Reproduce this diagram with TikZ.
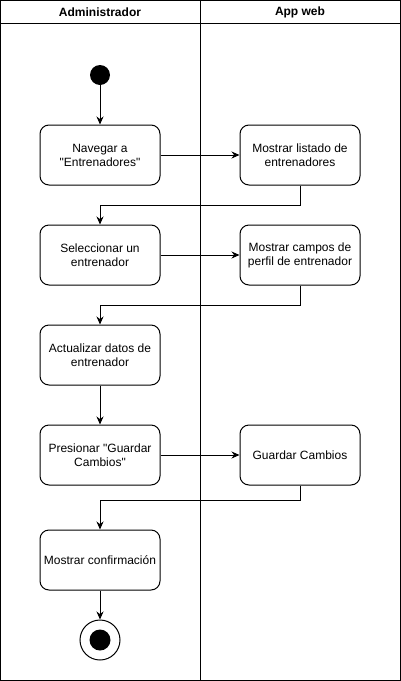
\documentclass[tikz,border=0pt]{standalone}
\usepackage{fontspec}
\setmainfont{Liberation Sans}
\usetikzlibrary{arrows.meta,positioning}

\begin{document}
\begin{tikzpicture}[x=1pt,y=-1pt,
    accion/.style={draw,line width=1pt,rounded corners=9pt,minimum width=120pt,minimum height=60pt,
        inner sep=2pt,align=center,font=\fontsize{12}{14}\selectfont},
    carril/.style={font=\fontsize{12}{14}\selectfont\bfseries},
    flecha/.style={-{Stealth[length=8pt,width=7pt]},line width=1pt}]

            \useasboundingbox (0,0) rectangle (401,681);

            % Marco de los carriles
            \draw[line width=1pt] (0.5,0.5) rectangle (400.5,680.5);
            \draw[line width=1pt] (0.5,23) -- (400.5,23);
            \draw[line width=1pt] (200.5,0.5) -- (200.5,680.5);
            \foreach \x/\titulo in {100/Administrador, 300/App web} {
                \node[carril] (t\x) at (\x,12) {\titulo};
            }

            % Estados inicial y final
            \node[circle,fill,minimum size=20pt,inner sep=0pt] (ini) at (100,75) {};
            \node[circle,draw,line width=1pt,minimum size=40pt,inner sep=0pt] (fin) at (100,640) {};
            \fill (fin.center) circle (10.5pt);

            % Acciones
            \node[accion] (navegar) at (100,155) {Navegar a\\\textquotedbl Entrenadores\textquotedbl};
            \node[accion] (listado) at (300,155) {Mostrar listado de\\entrenadores};
            \node[accion] (seleccionar) at (100,255) {Seleccionar un\\entrenador};
            \node[accion] (campos) at (300,255) {Mostrar campos de\\perfil de entrenador};
            \node[accion] (actualizar) at (100,355) {Actualizar datos de\\entrenador};
            \node[accion] (presionar) at (100,455) {Presionar \textquotedbl Guardar\\Cambios\textquotedbl};
            \node[accion] (guardar) at (300,455) {Guardar Cambios};
            \node[accion] (confirmacion) at (100,560) {Mostrar confirmación};

            % Flujo
            \draw[flecha] (ini) -- (navegar);
            \draw[flecha] (navegar) -- (listado);
            \draw[flecha] (listado.south) -- ++(0,20) -| (seleccionar.north);
            \draw[flecha] (seleccionar) -- (campos);
            \draw[flecha] (campos.south) -- ++(0,20) -| (actualizar.north);
            \draw[flecha] (actualizar) -- (presionar);
            \draw[flecha] (presionar) -- (guardar);
            \draw[flecha] (guardar.south) -- ++(0,15) -| (confirmacion.north);
            \draw[flecha] (confirmacion) -- (fin);

\end{tikzpicture}
\end{document}
